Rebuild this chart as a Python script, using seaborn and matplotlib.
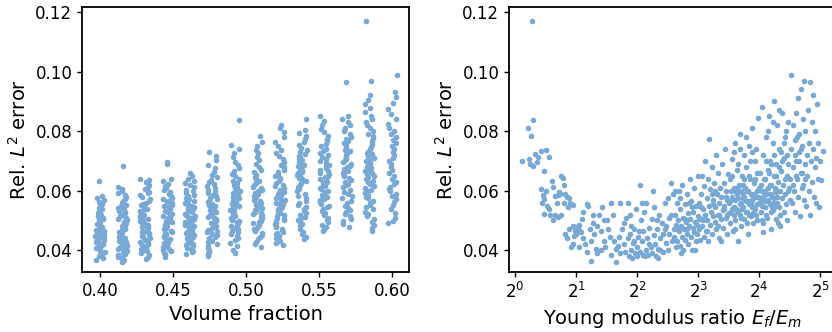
import matplotlib
matplotlib.use("Agg")
import matplotlib.pyplot as plt
import matplotlib.ticker as mticker
import seaborn as sns
import numpy as np
import pandas as pd

# --- data (errors in units of 1e-4) ---
volume_fractions = [0.4000, 0.4154, 0.4308, 0.4462, 0.4615, 0.4769, 0.4923,
                    0.5077, 0.5231, 0.5385, 0.5538, 0.5692, 0.5846, 0.6000]

err_vf_040 = [368, 374, 381, 389, 394, 399, 403, 406, 410, 413, 417, 420, 423, 427, 430, 434, 437,
              441, 444, 447, 451, 454, 458, 461, 465, 468, 472, 476, 479, 483, 487, 490, 494, 498,
              502, 506, 510, 515, 519, 524, 528, 533, 538, 543, 549, 555, 562, 569, 576, 583, 632]
err_vf_042 = [362, 366, 371, 375, 379, 383, 387, 390, 394, 397, 400, 403, 406, 409, 412, 415, 418,
              421, 424, 427, 430, 433, 437, 440, 443, 446, 450, 453, 456, 460, 463, 467, 470, 474,
              478, 482, 486, 490, 494, 498, 502, 506, 510, 515, 519, 524, 528, 533, 538, 543, 548,
              553, 559, 565, 571, 578, 585, 593, 600, 607, 612, 683]
err_vf_043 = [372, 379, 383, 391, 396, 398, 404, 409, 411, 417, 421, 422, 428, 433, 435, 441, 446,
              447, 452, 458, 461, 463, 469, 474, 477, 480, 486, 489, 492, 498, 503, 505, 511, 514,
              520, 524, 527, 533, 538, 540, 546, 551, 556, 559, 566, 573, 578, 584, 593, 597, 605,
              614, 619, 629, 636, 640]
err_vf_045 = [378, 386, 392, 398, 401, 405, 411, 414, 419, 423, 426, 431, 435, 438, 443, 447, 450,
              455, 459, 462, 466, 471, 474, 478, 483, 486, 490, 495, 498, 503, 507, 510, 515, 519,
              522, 527, 532, 535, 540, 545, 548, 553, 558, 562, 567, 573, 577, 583, 589, 594, 601,
              608, 615, 622, 631, 638, 690, 698]
err_vf_046 = [388, 393, 398, 404, 408, 413, 417, 420, 424, 429, 432, 437, 440, 444, 448, 451, 455,
              459, 462, 466, 469, 473, 477, 480, 484, 487, 491, 494, 498, 502, 505, 509, 512, 516,
              520, 523, 527, 531, 534, 538, 542, 546, 550, 554, 558, 562, 567, 571, 576, 581, 586,
              592, 598, 604, 611, 618, 625, 633, 641, 650, 660]
err_vf_048 = [382, 388, 395, 401, 407, 414, 421, 427, 432, 437, 442, 446, 451, 455, 460, 464, 468,
              472, 477, 481, 485, 489, 493, 497, 501, 505, 509, 513, 517, 521, 526, 530, 534, 538,
              543, 547, 552, 556, 561, 566, 571, 576, 581, 586, 592, 597, 603, 609, 615, 622, 629,
              637, 645, 654, 664, 675, 688, 702, 716, 730]
err_vf_049 = [392, 402, 414, 425, 434, 442, 449, 455, 461, 466, 471, 476, 481, 485, 490, 494, 498,
              502, 506, 510, 514, 518, 522, 526, 530, 534, 538, 542, 546, 550, 554, 558, 562, 566,
              570, 575, 579, 584, 588, 593, 598, 603, 608, 614, 620, 626, 633, 640, 648, 656, 665,
              675, 686, 698, 712, 726, 740, 752, 838]
err_vf_051 = [412, 420, 428, 437, 445, 452, 458, 464, 470, 475, 480, 485, 490, 495, 499, 504, 508,
              512, 517, 521, 525, 530, 534, 538, 543, 547, 551, 556, 560, 565, 569, 574, 578, 583,
              588, 593, 598, 603, 608, 614, 620, 626, 632, 639, 646, 654, 662, 671, 681, 691, 702,
              714, 726, 738, 750, 762, 785]
err_vf_052 = [418, 424, 430, 436, 442, 448, 453, 458, 463, 468, 473, 478, 483, 488, 492, 497, 501,
              506, 510, 515, 519, 524, 528, 533, 537, 542, 546, 551, 556, 560, 565, 570, 574, 579,
              584, 589, 594, 599, 604, 609, 615, 620, 626, 632, 638, 644, 650, 657, 664, 671, 679,
              687, 696, 705, 715, 726, 738, 751, 765, 780, 796, 810, 822]
err_vf_054 = [438, 446, 455, 463, 472, 480, 487, 494, 500, 507, 513, 519, 525, 531, 537, 544, 551,
              558, 566, 574, 582, 590, 598, 606, 613, 620, 626, 632, 638, 643, 648, 653, 658, 663,
              668, 673, 677, 682, 687, 692, 697, 702, 707, 712, 718, 724, 730, 737, 745, 753, 762,
              772, 783, 795, 803, 840]
err_vf_055 = [465, 472, 478, 486, 494, 502, 510, 517, 524, 531, 538, 544, 550, 556, 562, 568, 573,
              579, 584, 589, 594, 600, 605, 610, 615, 620, 625, 630, 635, 640, 645, 650, 655, 660,
              665, 670, 676, 682, 688, 694, 700, 706, 712, 719, 726, 733, 741, 749, 757, 766, 775,
              785, 796, 808, 821, 835, 850]
err_vf_057 = [478, 488, 497, 506, 514, 521, 528, 535, 542, 550, 558, 566, 574, 582, 590, 597, 604,
              611, 618, 624, 630, 636, 642, 648, 654, 660, 666, 672, 678, 684, 690, 696, 702, 708,
              714, 720, 726, 732, 738, 745, 752, 759, 766, 774, 782, 791, 800, 810, 820, 831, 842,
              850, 965]
err_vf_058 = [465, 475, 485, 495, 505, 514, 522, 530, 538, 546, 553, 560, 567, 574, 580, 586, 592,
              598, 604, 610, 616, 622, 628, 634, 640, 645, 650, 655, 660, 665, 670, 675, 680, 685,
              690, 695, 700, 705, 710, 716, 722, 728, 734, 740, 747, 754, 761, 768, 776, 784, 792,
              801, 810, 820, 830, 841, 852, 864, 877, 890, 905, 920, 968, 1170]
err_vf_060 = [490, 498, 510, 525, 540, 552, 563, 573, 582, 590, 598, 606, 614, 622, 630, 640, 650,
              660, 670, 680, 690, 700, 710, 720, 730, 740, 750, 760, 770, 780, 790, 800, 812, 825,
              840, 857, 875, 895, 915, 932, 990]

error_columns = [err_vf_040, err_vf_042, err_vf_043, err_vf_045, err_vf_046, err_vf_048, err_vf_049,
                 err_vf_051, err_vf_052, err_vf_054, err_vf_055, err_vf_057, err_vf_058, err_vf_060]

# (log2 of E_f/E_m, error * 1e4)
pts_tail = [(0.12, 700), (0.22, 708), (0.25, 690), (0.21, 812), (0.26, 783), (0.29, 838), (0.28, 1170),
            (0.30, 683), (0.33, 722), (0.38, 712), (0.42, 735), (0.50, 737), (0.55, 712), (0.47, 665),
            (0.36, 697)]
pts_low = [(0.42, 605), (0.45, 585), (0.47, 572), (0.44, 560), (0.50, 598), (0.52, 550), (0.48, 522),
           (0.55, 540), (0.60, 632), (0.62, 612), (0.66, 582), (0.70, 585), (0.73, 590), (0.75, 648),
           (0.78, 642), (0.80, 618), (0.82, 590), (0.85, 580), (0.88, 575), (0.65, 518), (0.70, 512),
           (0.76, 520), (0.58, 520), (0.62, 500), (0.90, 560), (0.95, 552), (0.68, 560), (0.72, 595),
           (0.80, 560), (0.86, 545)]
pts_valley = [(0.82, 455), (0.85, 440), (0.88, 470), (0.92, 410), (0.95, 480), (0.98, 465), (1.00, 472),
              (1.02, 478), (1.04, 468), (1.00, 455), (0.97, 448), (1.05, 485), (1.08, 460), (1.10, 505),
              (1.12, 440), (1.15, 420), (1.18, 395), (1.20, 550), (1.22, 470), (1.25, 430), (1.28, 490),
              (1.30, 455), (1.32, 405), (1.35, 390), (1.38, 520), (1.40, 465), (1.42, 545), (1.45, 430),
              (1.48, 410), (1.50, 500), (1.52, 470), (1.55, 445), (1.57, 385), (1.60, 520), (1.05, 410),
              (1.12, 530), (1.18, 555), (1.25, 365), (0.95, 420), (1.35, 480), (1.45, 500), (1.58, 560),
              (1.28, 520), (1.40, 400), (1.01, 462), (0.99, 478)]
pts_bottom = [(1.62, 430), (1.65, 405), (1.68, 415), (1.70, 445), (1.72, 390), (1.75, 470), (1.78, 420),
              (1.80, 395), (1.82, 510), (1.85, 440), (1.87, 380), (1.88, 455), (1.90, 400), (1.92, 375),
              (1.93, 425), (1.95, 470), (1.96, 390), (1.98, 540), (2.00, 410), (2.00, 380), (2.02, 445),
              (2.04, 395), (2.05, 620), (2.06, 500), (2.08, 430), (2.10, 385), (2.10, 465), (2.12, 530),
              (2.14, 400), (2.15, 560), (2.17, 440), (2.18, 385), (2.20, 475), (2.22, 410), (2.24, 505),
              (2.25, 390), (2.27, 450), (2.28, 545), (2.30, 420), (2.31, 380), (2.33, 470), (2.35, 405),
              (2.36, 520), (2.38, 440), (2.40, 490), (2.42, 395), (2.43, 455), (2.45, 560), (2.47, 425),
              (2.48, 480), (2.50, 400), (2.52, 510), (2.53, 455), (2.55, 625), (2.57, 430), (2.58, 590),
              (2.60, 470), (1.72, 560), (1.78, 490), (1.85, 560), (1.90, 480), (1.95, 430), (2.03, 465),
              (2.08, 560), (2.13, 380), (2.20, 420), (2.26, 600), (2.32, 500), (2.38, 400), (2.45, 470),
              (2.50, 575), (2.55, 520), (1.66, 360), (1.88, 520), (2.35, 375)]
pts_rise = [(2.61, 445), (2.62, 520), (2.63, 410), (2.64, 485), (2.65, 560), (2.66, 430), (2.67, 500),
            (2.68, 465), (2.69, 600), (2.70, 415), (2.71, 540), (2.72, 480), (2.73, 445), (2.74, 620),
            (2.75, 510), (2.76, 400), (2.77, 470), (2.78, 555), (2.79, 435), (2.80, 495), (2.81, 590),
            (2.82, 455), (2.83, 525), (2.84, 420), (2.85, 480), (2.86, 640), (2.87, 505), (2.88, 445),
            (2.89, 565), (2.90, 400), (2.91, 475), (2.92, 530), (2.93, 460), (2.94, 610), (2.95, 495),
            (2.96, 430), (2.97, 550), (2.98, 485), (2.99, 650), (3.00, 515), (2.95, 400), (2.65, 470),
            (2.72, 390), (2.85, 560), (2.78, 505), (2.90, 545), (2.70, 575), (2.82, 470), (2.98, 455),
            (2.62, 600),
            (3.01, 470), (3.02, 560), (3.03, 435), (3.04, 590), (3.05, 505), (3.06, 650), (3.07, 480),
            (3.08, 540), (3.09, 445), (3.10, 615), (3.11, 520), (3.12, 700), (3.13, 465), (3.14, 575),
            (3.15, 500), (3.16, 640), (3.17, 430), (3.18, 550), (3.19, 605), (3.20, 485), (3.21, 530),
            (3.22, 680), (3.23, 455), (3.24, 570), (3.25, 515), (3.26, 625), (3.27, 495), (3.28, 545),
            (3.29, 720), (3.30, 470), (3.31, 590), (3.32, 520), (3.33, 660), (3.34, 440), (3.35, 560),
            (3.36, 610), (3.37, 505), (3.38, 580), (3.39, 690), (3.40, 535), (3.41, 475), (3.42, 625),
            (3.43, 550), (3.44, 740), (3.45, 510), (3.46, 600), (3.47, 455), (3.48, 570), (3.49, 655),
            (3.50, 525), (3.05, 545), (3.15, 465), (3.25, 555), (3.35, 520), (3.45, 580), (3.12, 520),
            (3.22, 590), (3.32, 480), (3.42, 540), (3.18, 775), (3.38, 430), (3.28, 600), (3.08, 500),
            (3.48, 520), (3.02, 505)]
pts_peak = [(3.51, 560), (3.52, 490), (3.53, 640), (3.54, 530), (3.55, 705), (3.56, 580), (3.57, 465),
            (3.58, 610), (3.59, 545), (3.60, 760), (3.61, 500), (3.62, 595), (3.63, 670), (3.64, 535),
            (3.65, 430), (3.66, 575), (3.67, 620), (3.68, 520), (3.69, 790), (3.70, 560), (3.71, 480),
            (3.72, 650), (3.73, 590), (3.74, 545), (3.75, 720), (3.76, 505), (3.77, 610), (3.78, 565),
            (3.79, 680), (3.80, 530), (3.81, 455), (3.82, 600), (3.83, 750), (3.84, 555), (3.85, 640),
            (3.86, 515), (3.87, 590), (3.88, 810), (3.89, 570), (3.90, 490), (3.91, 625), (3.92, 545),
            (3.93, 700), (3.94, 580), (3.95, 520), (3.96, 660), (3.97, 600), (3.98, 845), (3.99, 560),
            (4.00, 610), (3.52, 565), (3.56, 540), (3.60, 570), (3.64, 590), (3.68, 555), (3.72, 540),
            (3.76, 580), (3.80, 600), (3.84, 520), (3.88, 545), (3.92, 590), (3.96, 555), (3.54, 600),
            (3.58, 520), (3.62, 540), (3.66, 530), (3.70, 600), (3.74, 575), (3.78, 530), (3.82, 565),
            (3.86, 560), (3.90, 580), (3.94, 540), (3.98, 580), (3.55, 650), (3.65, 690), (3.75, 640),
            (3.85, 700), (3.95, 740), (3.60, 470), (3.70, 510), (3.80, 490), (3.90, 525), (3.58, 730),
            (3.68, 740), (3.78, 780), (3.88, 730), (3.97, 500), (3.63, 610), (3.73, 620), (3.83, 650),
            (3.93, 640),
            (4.01, 575), (4.02, 660), (4.03, 530), (4.04, 880), (4.05, 600), (4.06, 490), (4.07, 720),
            (4.08, 565), (4.09, 640), (4.10, 545), (4.11, 780), (4.12, 590), (4.13, 510), (4.14, 670),
            (4.15, 610), (4.16, 850), (4.17, 555), (4.18, 700), (4.19, 470), (4.20, 620), (4.21, 580),
            (4.22, 760), (4.23, 535), (4.24, 650), (4.25, 900), (4.26, 595), (4.27, 505), (4.28, 690),
            (4.29, 560), (4.30, 820), (4.31, 630), (4.32, 545), (4.33, 740), (4.34, 600), (4.35, 480),
            (4.36, 665), (4.37, 575), (4.38, 860), (4.39, 620), (4.40, 530), (4.41, 710), (4.42, 590),
            (4.43, 780), (4.44, 555), (4.45, 650), (4.46, 500), (4.47, 690), (4.48, 830), (4.49, 610),
            (4.50, 570), (4.02, 560), (4.06, 580), (4.10, 600), (4.14, 570), (4.18, 590), (4.22, 560),
            (4.26, 610), (4.30, 580), (4.05, 550), (4.09, 590), (4.13, 565), (4.17, 620), (4.21, 545),
            (4.25, 575), (4.29, 600), (4.03, 620), (4.08, 640), (4.12, 700), (4.16, 660), (4.20, 690),
            (4.24, 720), (4.28, 650), (4.32, 680), (4.36, 730), (4.40, 760), (4.44, 800), (4.04, 500),
            (4.11, 520), (4.19, 530), (4.27, 550), (4.34, 520), (4.42, 640), (4.46, 720), (4.15, 800),
            (4.23, 830), (4.33, 870), (4.07, 460), (4.31, 490), (4.38, 700), (4.47, 600)]
pts_high = [(4.51, 640), (4.52, 740), (4.53, 990), (4.54, 560), (4.55, 680), (4.56, 820), (4.57, 600),
            (4.58, 770), (4.59, 530), (4.60, 700), (4.61, 860), (4.62, 640), (4.63, 910), (4.64, 580),
            (4.65, 730), (4.66, 790), (4.67, 515), (4.68, 660), (4.69, 940), (4.70, 610), (4.71, 750),
            (4.72, 840), (4.73, 570), (4.74, 970), (4.75, 690), (4.76, 800), (4.77, 550), (4.78, 720),
            (4.79, 650), (4.80, 870), (4.81, 600), (4.82, 760), (4.83, 965), (4.84, 520), (4.85, 700),
            (4.86, 830), (4.87, 630), (4.88, 920), (4.89, 740), (4.90, 580), (4.91, 680), (4.92, 800),
            (4.93, 560), (4.94, 710), (4.95, 890), (4.96, 640), (4.97, 760), (4.98, 545), (5.00, 700),
            (5.02, 635), (5.04, 735), (4.55, 620), (4.60, 650), (4.65, 700), (4.70, 660), (4.58, 720),
            (4.62, 780), (4.68, 740), (4.72, 620), (4.76, 640)]

COLOR = "#78a8d4"

sns.set_theme(style="ticks")
plt.rcParams.update({
    "font.family": "DejaVu Sans",
    "axes.edgecolor": "black",
    "axes.linewidth": 1.3,
    "xtick.color": "black",
    "ytick.color": "black",
    "text.color": "black",
    "axes.labelcolor": "black",
    "mathtext.fontset": "dejavusans",
})

# tidy tables
left_rows = [(vf, e * 1e-4) for vf, col in zip(volume_fractions, error_columns) for e in col]
df_left = pd.DataFrame(left_rows, columns=["volume_fraction", "error"])
all_pts = pts_tail + pts_low + pts_valley + pts_bottom + pts_rise + pts_peak + pts_high
df_right = pd.DataFrame(all_pts, columns=["log2_ratio", "error"])
df_right["ratio"] = 2.0 ** df_right["log2_ratio"]
df_right["error"] = df_right["error"] * 1e-4

fig = plt.figure(figsize=(8.32, 3.32), dpi=100)
ax1 = fig.add_axes([82 / 832, 60 / 332, 327 / 832, 265 / 332])
ax2 = fig.add_axes([509 / 832, 60 / 332, 327 / 832, 265 / 332])

np.random.seed(7)
sns.stripplot(data=df_left, x="volume_fraction", y="error", native_scale=True, orient="x",
              jitter=0.22, size=4.0, color=COLOR, linewidth=0, ax=ax1)
ax1.set_xlim(0.3877, 0.6116)
ax1.set_xticks([0.40, 0.45, 0.50, 0.55, 0.60])
ax1.xaxis.set_major_formatter(mticker.FormatStrFormatter("%.2f"))
ax1.set_xlabel("Volume fraction", fontsize=14)

sns.scatterplot(data=df_right, x="ratio", y="error", s=16, color=COLOR, linewidth=0, ax=ax2)
ax2.set_xscale("log", base=2)
ax2.set_xlim(2 ** -0.1, 2 ** 5.26)
ax2.set_xticks([1, 2, 4, 8, 16, 32])
ax2.xaxis.set_minor_locator(mticker.NullLocator())
ax2.set_xlabel("Young modulus ratio $E_f/E_m$", fontsize=14)

for ax in (ax1, ax2):
    ax.set_ylim(0.0327, 0.1217)
    ax.set_yticks([0.04, 0.06, 0.08, 0.10, 0.12])
    ax.yaxis.set_major_formatter(mticker.FormatStrFormatter("%.2f"))
    ax.set_ylabel("Rel. $L^2$ error", fontsize=14)
    ax.tick_params(labelsize=12, length=3.5, width=1)

fig.savefig("out.png", dpi=100)
